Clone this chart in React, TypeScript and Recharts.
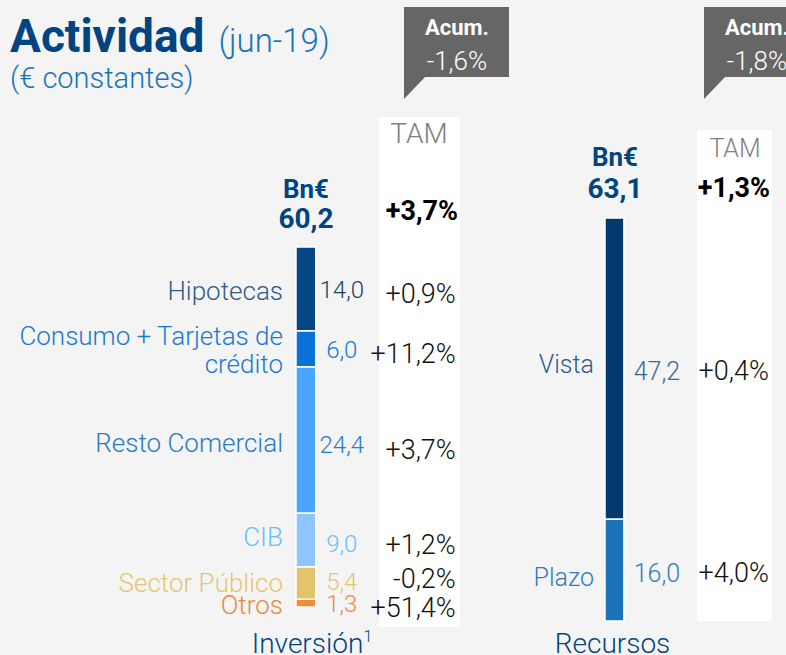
import { BarChart, Bar, XAxis, YAxis, LabelList } from 'recharts'

// ── Datos ────────────────────────────────────────────────
// Inversión (de abajo arriba)
const INV_KEYS = ['otros', 'sector', 'cib', 'resto', 'consumo', 'hipotecas']
const INV_LABELS = [['Otros'], ['Sector Público'], ['CIB'], ['Resto Comercial'], ['Consumo + Tarjetas de', 'crédito'], ['Hipotecas']]
const INV_VALUES = [1.3, 5.4, 9.0, 24.4, 6.0, 14.0]
const INV_TAM = ['+51,4%', '-0,2%', '+1,2%', '+3,7%', '+11,2%', '+0,9%']
const INV_TOTAL = '60,2'
const INV_TOTAL_TAM = '+3,7%'
const INV_ACUM = '-1,6%'

// Recursos (de abajo arriba)
const REC_KEYS = ['plazo', 'vista']
const REC_LABELS = [['Plazo'], ['Vista']]
const REC_VALUES = [16.0, 47.2]
const REC_TAM = ['+4,0%', '+0,4%']
const REC_TOTAL = '63,1'
const REC_TOTAL_TAM = '+1,3%'
const REC_ACUM = '-1,8%'

// ── Estilos ──────────────────────────────────────────────
const C = {
  bg: '#f4f4f4', navy: '#004481', blue: '#1973b8', grey: '#666666', tamGrey: '#808080',
}
const INV_COLORS = ['#f7893b', '#e2c46b', '#8dc5fc', '#49a5fe', '#0a72d6', '#074685']
const INV_TEXT = ['#f0883c', '#e5c66f', '#6dbdf8', '#2b7bc4', '#1a78d6', '#2f5b89']
const INV_VALUE_TEXT = ['#f0883c', '#e5c66f', '#6dbdf8', '#2b7bc4', '#1a78d6', '#1d3f6b']
const REC_COLORS = ['#1b72b8', '#033a6e']
const REC_TEXT = ['#2e7cc0', '#2d5b8f']
const REC_VALUE_TEXT = ['#2e7cc0', '#3a6a9a']

const FONT = 'Roboto, "Noto Sans", sans-serif'
const fmt = (v: number) => v.toFixed(1).replace('.', ',')

type Cfg = { nameDx: number; valueDx: number; tamDx: number; nameDy: number; valueDy: number; tamDy: number; fs: number; vfs: number; tfs: number }
type Nudge = { name?: number; value?: number; tam?: number }

function segLabel(lines: string[], value: number, tam: string, color: string, vcolor: string, cfg: Cfg, n: Nudge = {}) {
  return (p: any) => {
    const vb = p.viewBox || {}
    const x = Number(p.x ?? vb.x), y = Number(p.y ?? vb.y)
    const w = Number(p.width ?? vb.width), h = Number(p.height ?? vb.height)
    const cy = y + h / 2
    const lh = 28
    const first = cy + cfg.nameDy + (n.name || 0) - ((lines.length - 1) * lh) / 2
    return (
      <g style={{ fontFamily: FONT }}>
        <text x={x + cfg.nameDx} y={first} textAnchor="end" fontSize={cfg.fs} fontWeight={300} fill={color}>
          {lines.map((l, i) => (
            <tspan key={i} x={x + cfg.nameDx} y={first + i * lh}>{l}</tspan>
          ))}
        </text>
        <text x={x + w + cfg.valueDx} y={cy + cfg.valueDy + (n.value || 0)} textAnchor="middle" fontSize={cfg.vfs} fontWeight={300} fill={vcolor}>
          {fmt(value)}
        </text>
        <text x={x + w + cfg.tamDx} y={cy + cfg.tamDy + (n.tam || 0)} textAnchor="end" fontSize={cfg.tfs} fontWeight={300} fill="#111">
          {tam}
        </text>
      </g>
    )
  }
}

function CatTick({ x, y, payload, sup, dx, dy }: any) {
  return (
    <text x={Number(x) + dx} y={Number(y) + dy} textAnchor="middle" fontSize={28} fontWeight={300} fill={C.navy} style={{ fontFamily: FONT }}>
      {payload?.value}
      {sup && <tspan dy={-11} fontSize={16}>{sup}</tspan>}
    </text>
  )
}

const INV_NUDGE: Record<string, Nudge> = {
  resto: { name: 2, value: 4, tam: 5 }, cib: { name: -4, value: 3 }, sector: { name: -1, value: -2, tam: -9 },
  otros: { name: 1 }, hipotecas: { name: 1 },
}
const REC_NUDGE: Record<string, Nudge> = { vista: { name: -5 }, plazo: { name: 6 } }

function Callout({ x, text }: { x: number; text: string }) {
  return (
    <g>
      <rect x={x} y={7} width={105} height={70} fill={C.grey} />
      <polygon points={`${x},76 ${x},99 ${x + 22},76`} fill={C.grey} />
      <text x={x + 53} y={35} textAnchor="middle" fontSize={22} fontWeight={700} fill="#fff">Acum.</text>
      <text x={x + 53} y={70} textAnchor="middle" fontSize={26} fontWeight={300} fill="#fff">{text}</text>
    </g>
  )
}

export default function App() {
  const invRow: Record<string, any> = { name: 'Inversión' }
  INV_KEYS.forEach((k, i) => { invRow[k] = INV_VALUES[i] })
  const recRow: Record<string, any> = { name: 'Recursos' }
  REC_KEYS.forEach((k, i) => { recRow[k] = REC_VALUES[i] })
  const invSum = INV_VALUES.reduce((s, v) => s + v, 0)
  const recSum = REC_VALUES.reduce((s, v) => s + v, 0)

  const invCfg: Cfg = { nameDx: -13, valueDx: 26, tamDx: 140, nameDy: 10, valueDy: 9, tamDy: 14, fs: 26, vfs: 24, tfs: 27 }
  const recCfg: Cfg = { nameDx: -11, valueDx: 33, tamDx: 145, nameDy: 10, valueDy: 12, tamDy: 12, fs: 25, vfs: 25, tfs: 27 }

  return (
    <div style={{ position: 'absolute', left: 0, top: 0, width: 786, height: 655, background: C.bg, overflow: 'hidden', fontFamily: FONT }}>
      {/* Fondo: títulos, cajas y columnas TAM */}
      <svg width={786} height={655} style={{ position: 'absolute', left: 0, top: 0, fontFamily: FONT }}>
        <text x={10} y={52} fontSize={46} fontWeight={700} fill={C.navy}>
          Actividad<tspan dx={14} fontSize={33} fontWeight={300} fill={C.blue}>(jun-19)</tspan>
        </text>
        <text x={10} y={88} fontSize={29} fontWeight={300} fill={C.blue}>(€ constantes)</text>

        <Callout x={404} text={INV_ACUM} />
        <Callout x={704} text={REC_ACUM} />

        <rect x={379} y={117} width={81} height={510} fill="#fff" />
        <rect x={697} y={130} width={75} height={491} fill="#fff" />
        <text x={419} y={143} textAnchor="middle" fontSize={28} fontWeight={300} fill={C.tamGrey}>TAM</text>
        <text x={735} y={157} textAnchor="middle" fontSize={25} fontWeight={300} fill={C.tamGrey}>TAM</text>

        <text x={306} y={198} textAnchor="middle" fontSize={26} fontWeight={700} fill={C.navy}>Bn€</text>
        <text x={306} y={228} textAnchor="middle" fontSize={28} fontWeight={700} fill={C.navy}>{INV_TOTAL}</text>
        <text x={458} y={220} textAnchor="end" fontSize={27} fontWeight={700} fill="#000">{INV_TOTAL_TAM}</text>

        <text x={615} y={166} textAnchor="middle" fontSize={26} fontWeight={700} fill={C.navy}>Bn€</text>
        <text x={615} y={198} textAnchor="middle" fontSize={28} fontWeight={700} fill={C.navy}>{REC_TOTAL}</text>
        <text x={770} y={197} textAnchor="end" fontSize={27} fontWeight={700} fill="#000">{REC_TOTAL_TAM}</text>
      </svg>

      {/* Inversión */}
      <div style={{ position: 'absolute', left: 0, top: 0 }}>
        <BarChart width={786} height={655} data={[invRow]} margin={{ top: 247, right: 469, bottom: 8, left: 295 }} barCategoryGap={0}>
          <XAxis dataKey="name" axisLine={false} tickLine={false} height={40} interval={0} tick={<CatTick sup="1" dx={6} dy={38} />} />
          <YAxis hide domain={[0, invSum]} />
          {INV_KEYS.map((k, i) => (
            <Bar key={k} dataKey={k} stackId="inv" fill={INV_COLORS[i]} stroke="#fff" strokeWidth={1.5} barSize={22} isAnimationActive={false}>
              <LabelList dataKey={k} content={segLabel(INV_LABELS[i], INV_VALUES[i], INV_TAM[i], INV_TEXT[i], INV_VALUE_TEXT[i], invCfg, INV_NUDGE[k])} />
            </Bar>
          ))}
        </BarChart>
      </div>

      {/* Recursos */}
      <div style={{ position: 'absolute', left: 0, top: 0 }}>
        <BarChart width={786} height={655} data={[recRow]} margin={{ top: 218, right: 161, bottom: 0, left: 604 }} barCategoryGap={0}>
          <XAxis dataKey="name" axisLine={false} tickLine={false} height={34} interval={0} tick={<CatTick dx={-2} dy={24} />} />
          <YAxis hide domain={[0, recSum]} />
          {REC_KEYS.map((k, i) => (
            <Bar key={k} dataKey={k} stackId="rec" fill={REC_COLORS[i]} stroke="#fff" strokeWidth={1.5} barSize={21} isAnimationActive={false}>
              <LabelList dataKey={k} content={segLabel(REC_LABELS[i], REC_VALUES[i], REC_TAM[i], REC_TEXT[i], REC_VALUE_TEXT[i], recCfg, REC_NUDGE[k])} />
            </Bar>
          ))}
        </BarChart>
      </div>
    </div>
  )
}
